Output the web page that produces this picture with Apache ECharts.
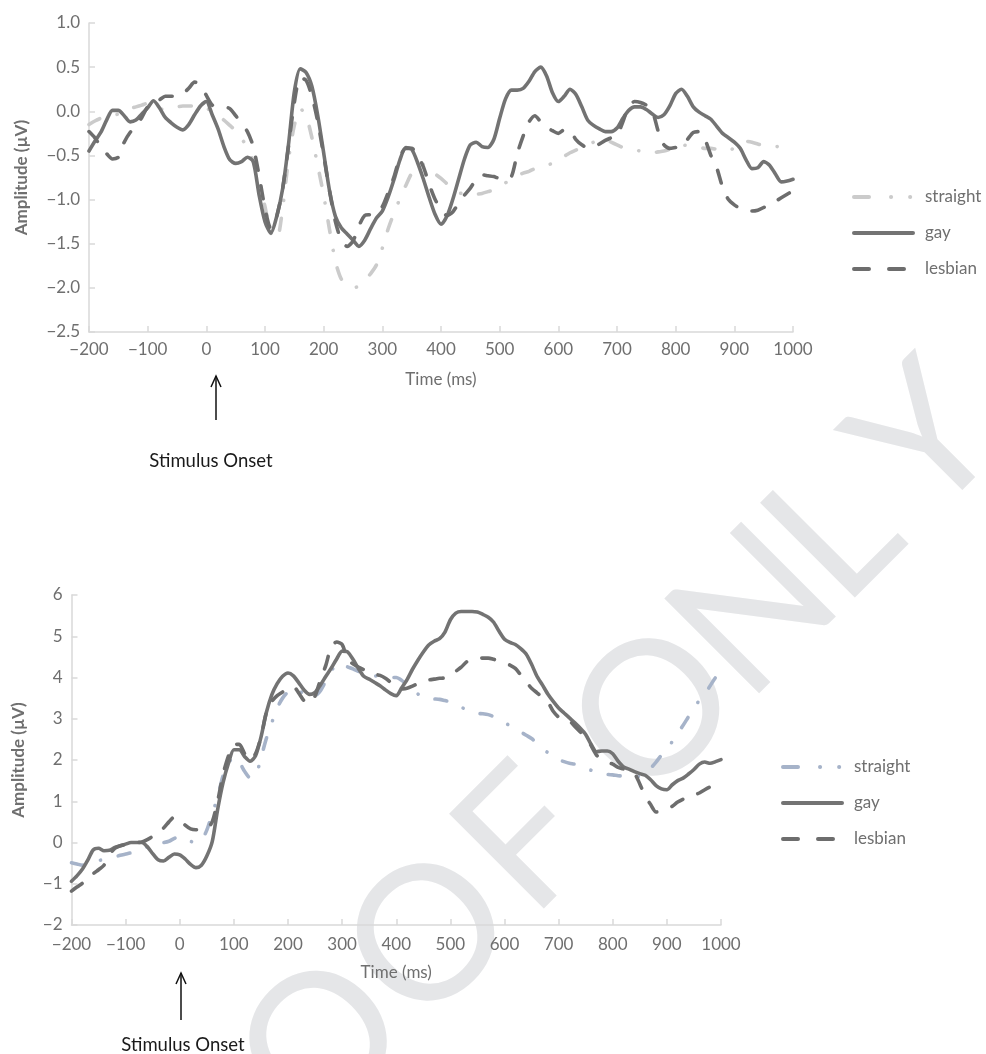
<!DOCTYPE html>
<html><head><meta charset="utf-8">
<script src="https://cdn.jsdelivr.net/npm/echarts@6/dist/echarts.min.js"></script>
<style>html,body{margin:0;padding:0;background:#fff}#c{width:986px;height:1054px}</style>
</head><body><div id="c"></div>
<script>
// time points (ms)
const times = [
 -200,-190,-180,-170,-160,-150,-140,-130,-120,-110,
 -100,-90,-80,-70,-60,-50,-40,-30,-20,-10,
 0,10,20,30,40,50,60,70,80,90,
 100,110,120,130,140,150,160,170,180,190,
 200,210,220,230,240,250,260,270,280,290,
 300,310,320,330,340,350,360,370,380,390,
 400,410,420,430,440,450,460,470,480,490,
 500,510,520,530,540,550,560,570,580,590,
 600,610,620,630,640,650,660,670,680,690,
 700,710,720,730,740,750,760,770,780,790,
 800,810,820,830,840,850,860,870,880,890,
 900,910,920,930,940,950,960,970,980,990,
 1000];

// upper panel
const topStraight = [
 -0.15,-0.11,-0.08,-0.07,-0.05,-0.03,0.00,0.03,0.05,0.07,
 0.09,0.07,0.03,0.02,0.03,0.05,0.06,0.06,0.06,0.06,
 0.04,-0.01,-0.05,-0.10,-0.16,-0.22,-0.31,-0.41,-0.57,-0.80,
 -1.08,-1.38,-1.45,-1.10,-0.55,-0.16,0.03,-0.05,-0.30,-0.62,
 -0.95,-1.34,-1.70,-1.90,-1.96,-2.00,-1.98,-1.92,-1.84,-1.74,
 -1.55,-1.33,-1.15,-0.99,-0.84,-0.70,-0.61,-0.60,-0.66,-0.71,
 -0.76,-0.82,-0.87,-0.92,-0.94,-0.95,-0.94,-0.93,-0.91,-0.89,
 -0.85,-0.81,-0.77,-0.73,-0.70,-0.68,-0.65,-0.63,-0.61,-0.59,
 -0.55,-0.51,-0.47,-0.44,-0.41,-0.38,-0.35,-0.33,-0.32,-0.35,
 -0.38,-0.41,-0.43,-0.44,-0.45,-0.47,-0.47,-0.46,-0.45,-0.43,
 -0.39,-0.38,-0.39,-0.40,-0.41,-0.42,-0.42,-0.43,-0.44,-0.45,
 -0.41,-0.36,-0.34,-0.35,-0.37,-0.39,-0.40,-0.40,-0.40,-0.40,
 -0.40];
const topGay = [
 -0.45,-0.34,-0.24,-0.10,0.01,0.01,-0.05,-0.12,-0.10,-0.03,
 0.04,0.12,0.04,-0.07,-0.13,-0.18,-0.21,-0.15,-0.04,0.06,
 0.11,-0.04,-0.20,-0.40,-0.55,-0.59,-0.57,-0.52,-0.57,-0.95,
 -1.25,-1.38,-1.19,-0.88,-0.38,0.22,0.48,0.44,0.28,-0.05,
 -0.47,-0.90,-1.19,-1.32,-1.39,-1.46,-1.53,-1.46,-1.33,-1.21,
 -1.13,-0.97,-0.77,-0.55,-0.41,-0.43,-0.58,-0.77,-0.98,-1.17,
 -1.28,-1.19,-1.00,-0.77,-0.54,-0.38,-0.35,-0.40,-0.41,-0.32,
 -0.08,0.14,0.24,0.24,0.26,0.34,0.45,0.50,0.40,0.21,
 0.11,0.17,0.25,0.19,0.05,-0.10,-0.16,-0.20,-0.23,-0.23,
 -0.19,-0.08,0.01,0.05,0.05,0.02,-0.03,-0.07,-0.04,0.06,
 0.20,0.25,0.17,0.05,-0.01,-0.05,-0.09,-0.17,-0.25,-0.30,
 -0.35,-0.42,-0.55,-0.65,-0.64,-0.57,-0.61,-0.71,-0.80,-0.79,
 -0.77];
const topLesbian = [
 -0.23,-0.30,-0.40,-0.48,-0.54,-0.52,-0.35,-0.24,-0.17,-0.07,
 0.05,0.10,0.13,0.17,0.17,0.17,0.20,0.26,0.33,0.30,
 0.18,0.07,0.05,0.05,0.03,-0.05,-0.14,-0.23,-0.40,-0.73,
 -1.10,-1.33,-1.19,-0.88,-0.40,0.10,0.38,0.35,0.17,-0.12,
 -0.50,-0.90,-1.25,-1.46,-1.53,-1.47,-1.30,-1.18,-1.17,-1.15,
 -1.08,-0.92,-0.74,-0.52,-0.42,-0.42,-0.50,-0.63,-0.83,-1.00,
 -1.11,-1.18,-1.14,-1.04,-0.95,-0.87,-0.77,-0.72,-0.73,-0.74,
 -0.76,-0.76,-0.74,-0.48,-0.28,-0.12,-0.05,-0.12,-0.18,-0.22,
 -0.25,-0.21,-0.22,-0.32,-0.38,-0.41,-0.41,-0.37,-0.33,-0.30,
 -0.27,-0.12,0.06,0.11,0.10,0.07,0.01,-0.22,-0.38,-0.42,
 -0.41,-0.40,-0.32,-0.24,-0.23,-0.32,-0.50,-0.64,-0.86,-1.00,
 -1.06,-1.10,-1.12,-1.13,-1.12,-1.09,-1.05,-1.02,-0.98,-0.94,
 -0.90];

// lower panel
const botStraight = [
 -0.49,-0.52,-0.55,-0.52,-0.48,-0.44,-0.41,-0.38,-0.35,-0.31,
 -0.28,-0.25,-0.20,-0.15,-0.10,-0.05,-0.01,0.00,0.03,0.10,
 0.15,0.10,0.03,-0.01,0.05,0.30,0.70,1.10,1.62,1.92,
 2.08,1.95,1.72,1.57,1.60,2.05,2.52,2.90,3.26,3.50,
 3.65,3.72,3.70,3.58,3.52,3.55,3.68,3.92,4.15,4.33,
 4.33,4.26,4.21,4.15,4.09,4.06,4.04,4.03,4.01,4.00,
 4.00,3.93,3.82,3.70,3.60,3.51,3.49,3.48,3.47,3.44,
 3.41,3.37,3.29,3.20,3.15,3.13,3.12,3.10,3.05,2.97,
 2.91,2.83,2.76,2.68,2.60,2.52,2.41,2.28,2.18,2.09,
 2.01,1.96,1.92,1.90,1.86,1.80,1.75,1.71,1.68,1.65,
 1.64,1.62,1.61,1.60,1.59,1.61,1.68,1.80,1.95,2.12,
 2.25,2.45,2.65,2.84,3.05,3.25,3.45,3.60,3.80,4.00,
 4.12];
const botGay = [
 -0.94,-0.81,-0.65,-0.43,-0.18,-0.14,-0.20,-0.19,-0.12,-0.08,
 -0.04,0.00,0.00,0.00,-0.10,-0.27,-0.42,-0.45,-0.36,-0.28,
 -0.30,-0.40,-0.53,-0.61,-0.55,-0.33,0.02,0.80,1.45,1.92,
 2.25,2.25,2.08,1.97,2.10,2.55,3.15,3.58,3.85,4.03,
 4.11,4.04,3.87,3.69,3.59,3.64,3.82,4.03,4.23,4.45,
 4.64,4.62,4.44,4.22,4.03,3.96,3.88,3.80,3.70,3.61,
 3.56,3.75,3.95,4.20,4.42,4.62,4.79,4.88,4.94,5.10,
 5.40,5.56,5.60,5.60,5.60,5.59,5.53,5.46,5.34,5.12,
 4.93,4.85,4.80,4.70,4.57,4.32,4.03,3.82,3.60,3.42,
 3.26,3.14,3.02,2.90,2.77,2.62,2.38,2.20,2.22,2.22,
 2.15,1.97,1.83,1.78,1.72,1.67,1.63,1.52,1.38,1.30,
 1.28,1.40,1.50,1.56,1.66,1.77,1.90,1.95,1.92,1.96,
 2.01];
const botLesbian = [
 -1.18,-1.08,-0.99,-0.89,-0.76,-0.66,-0.55,-0.30,-0.14,-0.08,
 -0.05,-0.01,0.00,0.01,0.07,0.15,0.27,0.35,0.50,0.62,
 0.55,0.42,0.33,0.31,0.31,0.33,0.50,1.00,1.65,2.10,
 2.38,2.38,2.15,2.00,2.15,2.55,3.15,3.42,3.56,3.65,
 3.74,3.78,3.62,3.43,3.38,3.55,3.95,4.30,4.76,4.86,
 4.80,4.45,4.33,4.25,4.19,4.15,4.08,4.05,3.98,3.88,
 3.78,3.72,3.74,3.79,3.85,3.90,3.94,3.96,3.98,3.99,
 4.05,4.15,4.25,4.38,4.45,4.47,4.47,4.47,4.44,4.40,
 4.35,4.30,4.22,4.06,3.90,3.74,3.63,3.52,3.41,3.18,
 3.04,2.99,2.95,2.81,2.68,2.56,2.35,2.12,2.01,1.95,
 1.90,1.82,1.78,1.73,1.68,1.42,1.12,0.92,0.74,0.76,
 0.80,0.88,0.98,1.05,1.10,1.15,1.20,1.28,1.35,1.40,
 1.45];

const seriesNames = ['straight', 'gay', 'lesbian'];
const xTicks = { min: -200, max: 1000, step: 100 };
const topYTicks = { min: -2.5, max: 1.0, step: 0.5 };
const botYTicks = { min: -2, max: 6, step: 1 };
const yTitle = 'Amplitude (\u00b5V)';
const xTitle = 'Time (ms)';
const onsetText = 'Stimulus Onset';
const watermark = 'PROOF ONLY';

const pairs = (vals) => times.map((t, i) => [t, vals[i]]);
const MINUS = '\u2212';
const fmt = (d) => (v) => (v < 0 ? MINUS : '') + Math.abs(v).toFixed(d);

const FONT = 'Lato, "Open Sans", sans-serif';
const TXT = '#6f6f6f';
const AXIS = '#d9d9d9';

const straightDash = [12, 18, 0.1, 18];
const lesbianDash = [13, 16];

function xAxisOpt(gridIndex, margin) {
  return {
    type: 'value', gridIndex, min: xTicks.min, max: xTicks.max, interval: xTicks.step,
    name: xTitle, nameLocation: 'middle', nameGap: 39, nameMoveOverlap: false,
    nameTextStyle: { fontFamily: FONT, fontSize: 17, color: TXT },
    axisLine: { show: true, onZero: false, lineStyle: { color: AXIS, width: 1.5 } },
    axisTick: { show: true, inside: true, length: 6, lineStyle: { color: AXIS, width: 1.5 } },
    axisLabel: { fontFamily: FONT, fontSize: 17, color: TXT, margin, formatter: fmt(0), hideOverlap: false },
    splitLine: { show: false }
  };
}
function yAxisOpt(gridIndex, ticks, dec, gap) {
  return {
    type: 'value', gridIndex, min: ticks.min, max: ticks.max, interval: ticks.step,
    name: yTitle, nameLocation: 'middle', nameGap: gap, nameMoveOverlap: false,
    nameTextStyle: { fontFamily: FONT, fontSize: 17, color: TXT, fontWeight: 'bold' },
    axisLine: { show: true, onZero: false, lineStyle: { color: AXIS, width: 1.5 } },
    axisTick: { show: true, inside: true, length: 6, lineStyle: { color: AXIS, width: 1.5 } },
    axisLabel: { fontFamily: FONT, fontSize: 17, color: TXT, margin: 9, formatter: fmt(dec) },
    splitLine: { show: false }
  };
}
function lineSeries(name, xi, vals, color, type) {
  return {
    type: 'line', name: name, xAxisIndex: xi, yAxisIndex: xi, data: pairs(vals),
    symbol: 'none', smooth: 0.25, animation: false,
    lineStyle: { color, width: 3.6, type, cap: 'round', join: 'round' },
    itemStyle: { color }
  };
}
function legendOpt(left, top, suffix) {
  return {
    orient: 'vertical', left, top, itemWidth: 59, itemHeight: 14, itemGap: 19,
    selectedMode: false,
    formatter: (n) => n.trim(),
    textStyle: { fontFamily: FONT, fontSize: 17, color: TXT, padding: [0, 0, 0, 7] },
    itemStyle: { opacity: 0 },
    lineStyle: { width: 4, cap: 'round' },
    data: [
      { name: seriesNames[0] + suffix, lineStyle: { type: [15, 22, 0.1, 19, 0.1, 60] } },
      { name: seriesNames[1] + suffix, lineStyle: { type: 'solid' } },
      { name: seriesNames[2] + suffix, lineStyle: { type: [15, 20] } }
    ]
  };
}

// watermark letters placed along a 45 degree line
const wmC = 1367, wmS = [-800, -665, -510, -358, -222, null, -40, 101, 213, 343];
const wmEls = [];
watermark.split('').forEach((ch, i) => {
  if (ch === ' ' || wmS[i] === null) return;
  const s = wmS[i] * Math.SQRT2;
  wmEls.push({
    type: 'text', z: -5, x: (wmC + s) / 2, y: (wmC - s) / 2, rotation: Math.PI / 4,
    style: { text: ch, font: '187px Lato, sans-serif', fill: '#e5e6e8',
      align: 'center', verticalAlign: 'middle', textAlign: 'center', textVerticalAlign: 'middle' }
  });
});
function arrow(x, yTip, yEnd, tx, ty) {
  return [
    { type: 'polyline', shape: { points: [[x, yEnd], [x, yTip]] }, style: { stroke: '#111', lineWidth: 1.5, fill: null } },
    { type: 'polyline', shape: { points: [[x - 5, yTip + 11], [x, yTip], [x + 5, yTip + 11]] }, style: { stroke: '#111', lineWidth: 1.5, fill: null } },
    { type: 'text', x: tx, y: ty, style: { text: onsetText, font: '18.5px Lato, sans-serif', fill: '#1a1a1a',
      align: 'center', verticalAlign: 'middle', textAlign: 'center', textVerticalAlign: 'middle' } }
  ];
}

const chart = echarts.init(document.getElementById('c'), null, { renderer: 'canvas' });
chart.setOption({
  animation: false,
  backgroundColor: '#ffffff',
  grid: [
    { left: 89, top: 23, width: 704, height: 309, containLabel: false },
    { left: 71.5, top: 595, width: 649.5, height: 330, containLabel: false }
  ],
  xAxis: [xAxisOpt(0, 9), xAxisOpt(1, 11)],
  yAxis: [yAxisOpt(0, topYTicks, 1, 59), yAxisOpt(1, botYTicks, 0, 44)],
  legend: [legendOpt(847, 183.5, ''), legendOpt(776, 753.5, ' ')],
  series: [
    lineSeries(seriesNames[0], 0, topStraight, '#cbcbcb', straightDash),
    lineSeries(seriesNames[1], 0, topGay, '#737373', 'solid'),
    lineSeries(seriesNames[2], 0, topLesbian, '#6d6d6d', lesbianDash),
    lineSeries(seriesNames[0] + ' ', 1, botStraight, '#a6b3c9', straightDash),
    lineSeries(seriesNames[1] + ' ', 1, botGay, '#737373', 'solid'),
    lineSeries(seriesNames[2] + ' ', 1, botLesbian, '#6d6d6d', lesbianDash)
  ],
  graphic: { elements: wmEls.concat(arrow(216, 376, 420, 211, 461), arrow(181, 973, 1020, 183, 1045)) }
});
</script>
</body></html>
